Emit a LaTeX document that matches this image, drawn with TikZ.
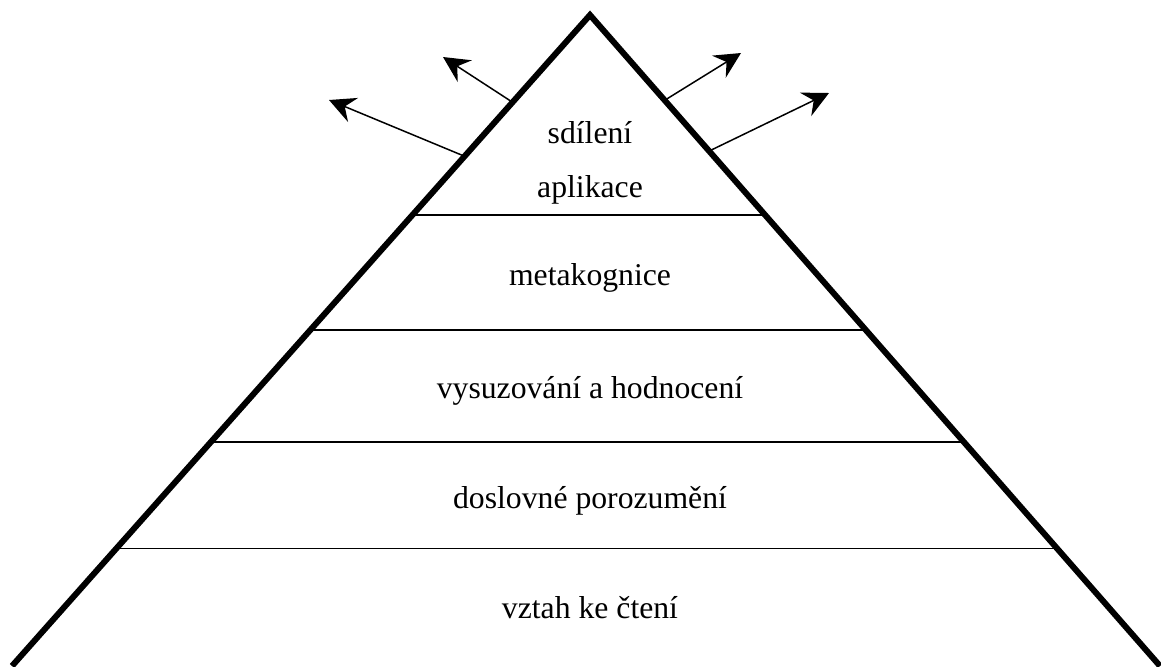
\documentclass[tikz,border=0pt]{standalone}
\usepackage{fontspec}
\setmainfont{Liberation Serif}
\usetikzlibrary{arrows.meta,calc}

\begin{document}
\begin{tikzpicture}[
  x=0.5pt,y=-0.5pt,
  edge/.style={line width=3pt,line join=miter},
  layer/.style={line width=0.65pt},
  level/.style={font=\fontsize{15.85}{27}\selectfont,align=center,anchor=base,inner sep=0pt},
  spread/.style={-{Stealth[length=13pt,width=13pt,inset=4.5pt]},line width=0.75pt}
]
\useasboundingbox (0,0) rectangle (1161,666);
\clip (0,0) rectangle (1161,666);
\coordinate (apex) at (590,15);
\coordinate (bl) at (12,666);
\coordinate (br) at (1160,666);
% layers
\draw[layer] ($(apex)!0.307!(bl)$) -- ($(apex)!0.307!(br)$);
\draw[layer] ($(apex)!0.484!(bl)$) -- ($(apex)!0.484!(br)$);
\draw[layer] ($(apex)!0.656!(bl)$) -- ($(apex)!0.656!(br)$);
\draw[layer] ($(apex)!0.819!(bl)$) -- ($(apex)!0.819!(br)$);
\draw[edge] (bl) -- (apex) -- (br);
% labels
\node[level] (l5) at (590,197) {sdílení\\aplikace};
\node[level] (l4) at (590,285) {metakognice};
\node[level] (l3) at (590,398) {vysuzování a hodnocení};
\node[level] (l2) at (590,508) {doslovné porozumění};
\node[level] (l1) at (590,618) {vztah ke čtení};
% arrows
\coordinate (o1) at (329,100);
\coordinate (o2) at (443,57);
\coordinate (o3) at (741,53);
\coordinate (o4) at (829,93);
\draw[spread] ($(apex)!0.217!(bl)$) -- (o1);
\draw[spread] ($(apex)!0.134!(bl)$) -- (o2);
\draw[spread] ($(apex)!0.131!(br)$) -- (o3);
\draw[spread] ($(apex)!0.209!(br)$) -- (o4);
\end{tikzpicture}
\end{document}
